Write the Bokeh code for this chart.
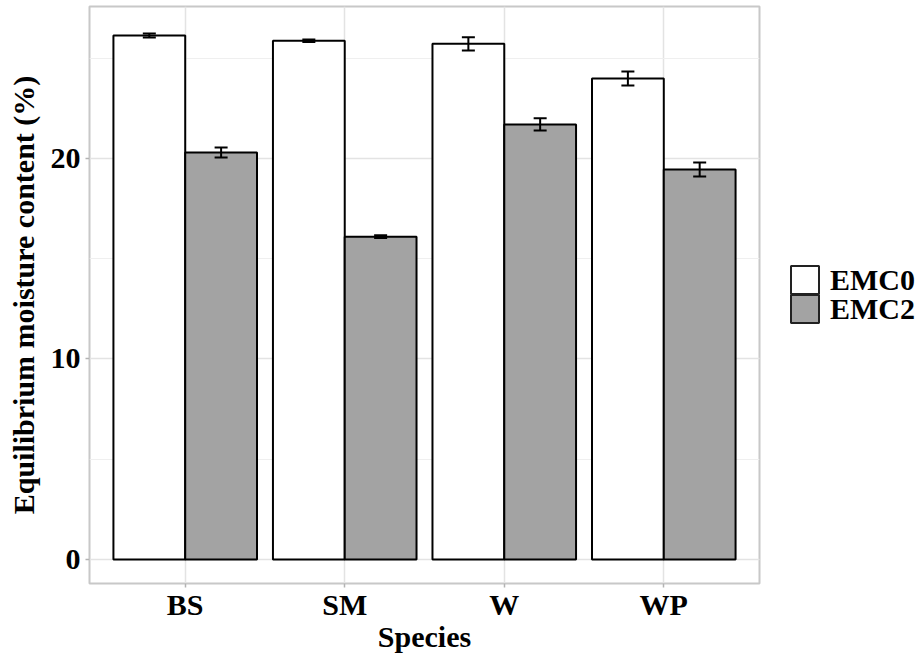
from bokeh.plotting import figure
from bokeh.models import ColumnDataSource, FactorRange, Whisker, TeeHead, Legend, LegendItem, SingleIntervalTicker
from bokeh.layouts import row
from bokeh.transform import dodge
from bokeh.embed import file_html
from bokeh.resources import INLINE

species = ["BS", "SM", "W", "WP"]
emc0 = [26.13, 25.87, 25.72, 23.99]
emc0_err = [0.10, 0.06, 0.33, 0.35]
emc2 = [20.30, 16.10, 21.70, 19.45]
emc2_err = [0.25, 0.07, 0.30, 0.35]
series_labels = ["EMC0", "EMC2"]
series_cols = ["emc0", "emc2"]
series_colors = ["white", "#a3a3a3"]

src = ColumnDataSource(dict(
    species=species,
    emc0=emc0,
    emc2=emc2,
    up0=[v + e for v, e in zip(emc0, emc0_err)],
    lo0=[v - e for v, e in zip(emc0, emc0_err)],
    up2=[v + e for v, e in zip(emc2, emc2_err)],
    lo2=[v - e for v, e in zip(emc2, emc2_err)],
))

FONT = "Liberation Serif"
H = 657

p = figure(
    x_range=FactorRange(*species, range_padding=0.1, range_padding_units="absolute"),
    y_range=(-1.2, 27.58),
    width=761, height=H,
    output_backend="svg", toolbar_location=None,
    min_border_left=89, min_border_right=2, min_border_top=6, min_border_bottom=74,
    background_fill_color="white", border_fill_color="white",
)

p.outline_line_color = "#c8c8c8"
p.outline_line_width = 2

r0 = p.vbar(x=dodge("species", -0.225, range=p.x_range), top="emc0", bottom=0, width=0.45,
            source=src, fill_color=series_colors[0], line_color="black", line_width=2)
r2 = p.vbar(x=dodge("species", 0.225, range=p.x_range), top="emc2", bottom=0, width=0.45,
            source=src, fill_color=series_colors[1], line_color="black", line_width=2)

for off, up, lo in [(-0.225, "up0", "lo0"), (0.225, "up2", "lo2")]:
    w = Whisker(source=src, base=dodge("species", off, range=p.x_range), upper=up, lower=lo,
                level="overlay", line_color="black", line_width=2,
                upper_head=TeeHead(size=13, line_color="black", line_width=2),
                lower_head=TeeHead(size=13, line_color="black", line_width=2))
    p.add_layout(w)

# grids
p.yaxis.ticker = SingleIntervalTicker(interval=10, num_minor_ticks=2)
p.ygrid.grid_line_color = "#e3e3e3"
p.ygrid.grid_line_width = 1.5
p.ygrid.minor_grid_line_color = "#efefef"
p.ygrid.minor_grid_line_width = 1.2
p.xgrid.grid_line_color = "#e3e3e3"
p.xgrid.grid_line_width = 1.5

for ax in (p.xaxis, p.yaxis):
    ax.axis_line_color = None
    ax.major_tick_line_color = "#b3b3b3"
    ax.major_tick_line_width = 1.5
    ax.major_tick_out = 4
    ax.major_tick_in = 0
    ax.minor_tick_line_color = None
    ax.major_label_text_font = FONT
    ax.major_label_text_font_style = "bold"
    ax.major_label_text_font_size = "30px"
    ax.major_label_text_color = "black"
    ax.axis_label_text_font = FONT
    ax.axis_label_text_font_style = "bold"
    ax.axis_label_text_font_size = "30px"
    ax.axis_label_text_color = "black"

p.xaxis.axis_label = "Species"
p.yaxis.axis_label = "Equilibrium moisture content (%)"
p.xaxis.major_label_standoff = 0
p.xaxis.axis_label_standoff = -4
p.yaxis.major_label_standoff = 5
p.yaxis.axis_label_standoff = 8

# legend panel: its bar renderers are hidden, only the legend entries show
pl = figure(width=924 - 761, height=H,
            x_range=FactorRange(*species), y_range=(0, 30),
            output_backend="svg", toolbar_location=None,
            x_axis_location=None, y_axis_location=None,
            min_border=0, outline_line_color=None,
            background_fill_color="white", border_fill_color="white")
pl.xgrid.visible = False
pl.ygrid.visible = False

legend_y = [286, 257]
for lab, col, c, ly in zip(series_labels, series_cols, series_colors, legend_y):
    r = pl.vbar(x="species", top=col, bottom=0, width=0.45, source=src,
                fill_color=c, line_color="#222222", line_width=2)
    r.visible = False
    lg = Legend(items=[LegendItem(label=lab, renderers=[r])],
                location=(26, ly), orientation="vertical",
                glyph_width=35, glyph_height=35, label_height=28, spacing=0,
                label_standoff=8, padding=0, margin=0,
                border_line_color=None, background_fill_alpha=0,
                inactive_fill_alpha=0,
                label_text_font=FONT, label_text_font_style="bold",
                label_text_font_size="30px", label_text_color="black")
    pl.add_layout(lg)

layout = row(p, pl)
open("out.html", "w").write(file_html(layout, INLINE))
